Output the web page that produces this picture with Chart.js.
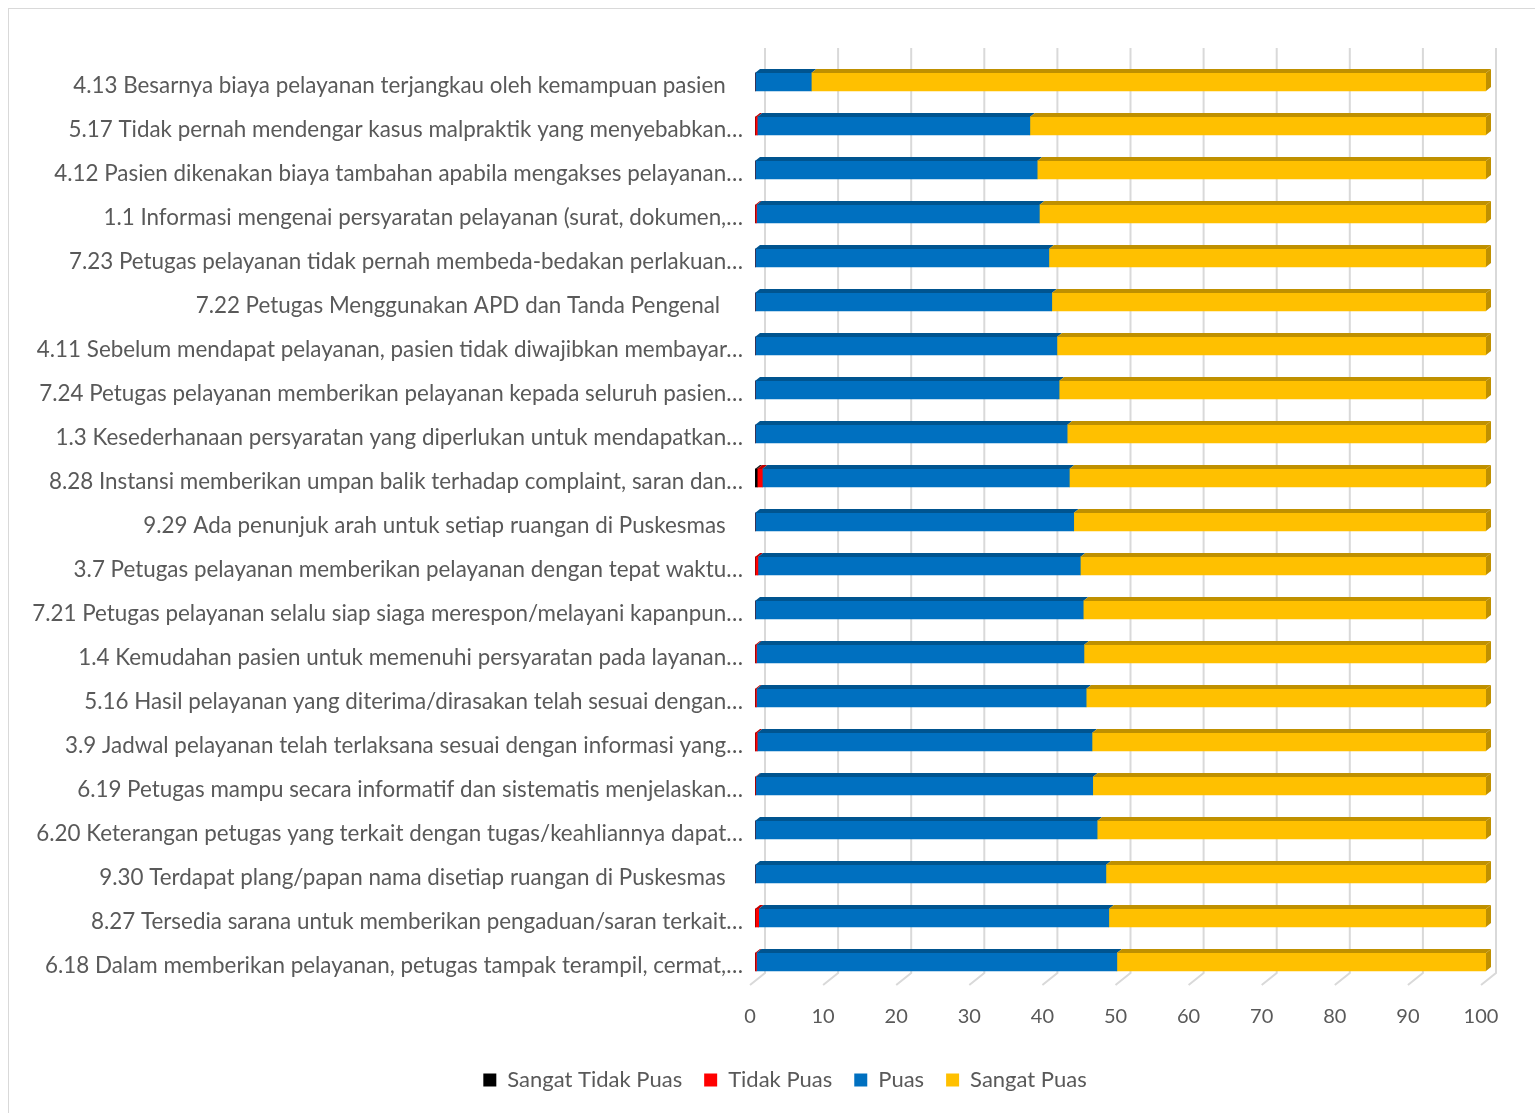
<!DOCTYPE html>
<html>
<head>
<meta charset="utf-8">
<title>Tingkat Kepuasan Pasien per Unsur</title>
<script src="https://cdn.jsdelivr.net/npm/chart.js@4.4.1/dist/chart.umd.min.js"></script>
<style>
    html, body { margin: 0; padding: 0; background: #ffffff; overflow: hidden; }
    #frame { position: absolute; left: 8px; top: 8px; width: 1600px; height: 1200px; border: 1px solid #d9d9d9; }
    #wrap { position: absolute; left: 0; top: 0; width: 1535px; height: 1113px; }
</style>
</head>
<body>
<div id="frame"></div>
<div id="wrap"><canvas id="surveyChart"></canvas></div>
<script>
// Question labels (top to bottom, as in the survey report)
const questions = [
    '4.13 Besarnya biaya pelayanan terjangkau oleh kemampuan pasien   ',
    '5.17 Tidak pernah mendengar kasus malpraktik yang menyebabkan…',
    '4.12 Pasien dikenakan biaya tambahan apabila mengakses pelayanan…',
    '1.1 Informasi mengenai persyaratan pelayanan (surat, dokumen,…',
    '7.23 Petugas pelayanan tidak pernah membeda-bedakan perlakuan…',
    '7.22 Petugas Menggunakan APD dan Tanda Pengenal    ',
    '4.11 Sebelum mendapat pelayanan, pasien tidak diwajibkan membayar…',
    '7.24 Petugas pelayanan memberikan pelayanan kepada seluruh pasien…',
    '1.3 Kesederhanaan persyaratan yang diperlukan untuk mendapatkan…',
    '8.28 Instansi memberikan umpan balik terhadap complaint, saran dan…',
    '9.29 Ada penunjuk arah untuk setiap ruangan di Puskesmas   ',
    '3.7 Petugas pelayanan memberikan pelayanan dengan tepat waktu…',
    '7.21 Petugas pelayanan selalu siap siaga merespon/melayani kapanpun…',
    '1.4 Kemudahan pasien untuk memenuhi persyaratan pada layanan…',
    '5.16 Hasil pelayanan yang diterima/dirasakan telah sesuai dengan…',
    '3.9 Jadwal pelayanan telah terlaksana sesuai dengan informasi yang…',
    '6.19 Petugas mampu secara informatif dan sistematis menjelaskan…',
    '6.20 Keterangan petugas yang terkait dengan tugas/keahliannya dapat…',
    '9.30 Terdapat plang/papan nama disetiap ruangan di Puskesmas   ',
    '8.27 Tersedia sarana untuk memberikan pengaduan/saran terkait…',
    '6.18 Dalam memberikan pelayanan, petugas tampak terampil, cermat,…'
];

// Percentages per answer category
const sangatTidakPuas = [0, 0, 0, 0, 0, 0, 0, 0, 0, 0.3, 0, 0, 0, 0, 0, 0, 0, 0, 0, 0, 0];
const tidakPuas       = [0, 0.3, 0, 0.2, 0, 0, 0, 0, 0, 0.7, 0, 0.4, 0, 0.2, 0.2, 0.3, 0.1, 0, 0, 0.5, 0.2];
const puas            = [7.7, 37.3, 38.6, 38.7, 40.2, 40.6, 41.3, 41.6, 42.7, 42.0, 43.6, 44.1, 44.9, 44.8, 45.1, 45.8, 46.1, 46.8, 48.0, 47.9, 49.3];
const sangatPuas      = [92.3, 62.4, 61.4, 61.1, 59.8, 59.4, 58.7, 58.4, 57.3, 57.0, 56.4, 55.5, 55.1, 55.0, 54.7, 53.9, 53.8, 53.2, 52.0, 51.6, 50.5];

const seriesNames = ['Sangat Tidak Puas', 'Tidak Puas', 'Puas', 'Sangat Puas'];
const axisTicks = [0, 10, 20, 30, 40, 50, 60, 70, 80, 90, 100];

// Front and top face colours of the 3D bars
const frontColors = ['#000000', '#ff0000', '#0070c0', '#ffc000'];
const topColors = ['#1a1a1a', '#bf0000', '#00548f', '#bf9000'];
const depthX = 5;
const depthY = 4;
const textColor = '#595959';
const fontFamily = 'Lato, "Open Sans", sans-serif';

// Back wall gridlines with a little floor foot (Excel 3D look)
const backGrid = {
    id: 'backGrid',
    beforeDatasetsDraw(chart) {
        const { ctx, chartArea, scales } = chart;
        ctx.save();
        ctx.strokeStyle = '#d9d9d9';
        ctx.lineWidth = 2;
        axisTicks.forEach(function(v) {
            const px = scales.x.getPixelForValue(v) + 10;
            ctx.beginPath();
            ctx.moveTo(px, chartArea.top - 12);
            ctx.lineTo(px, chartArea.bottom - 11);
            ctx.lineTo(px - 15, chartArea.bottom + 1);
            ctx.stroke();
        });
        ctx.restore();
    }
};

// Top faces of every segment and the right face of the last one
const bar3d = {
    id: 'bar3d',
    afterDatasetsDraw(chart) {
        const ctx = chart.ctx;
        const last = chart.data.datasets.length - 1;
        ctx.save();
        chart.data.datasets.forEach(function(ds, i) {
            const meta = chart.getDatasetMeta(i);
            meta.data.forEach(function(bar) {
                const p = bar.getProps(['x', 'y', 'base', 'height'], true);
                if (p.x - p.base < 0.5) return;
                const top = p.y - p.height / 2;
                const bottom = p.y + p.height / 2;
                ctx.fillStyle = topColors[i];
                ctx.beginPath();
                ctx.moveTo(p.base, top);
                ctx.lineTo(p.base + depthX, top - depthY);
                ctx.lineTo(p.x + depthX, top - depthY);
                ctx.lineTo(p.x, top);
                ctx.closePath();
                ctx.fill();
                if (i === last) {
                    ctx.beginPath();
                    ctx.moveTo(p.x, top);
                    ctx.lineTo(p.x + depthX, top - depthY);
                    ctx.lineTo(p.x + depthX, bottom - depthY);
                    ctx.lineTo(p.x, bottom);
                    ctx.closePath();
                    ctx.fill();
                }
            });
        });
        ctx.restore();
    }
};

// Legend sits centred under the plot area, not the whole canvas
const legendShift = {
    id: 'legendShift',
    afterLayout(chart) {
        chart.legend.left += 32;
        chart.legend.right += 32;
    }
};

function buildDatasets() {
    const values = [sangatTidakPuas, tidakPuas, puas, sangatPuas];
    return seriesNames.map(function(name, i) {
        return {
            label: name,
            data: values[i],
            backgroundColor: frontColors[i],
            borderWidth: 0,
            barThickness: 18
        };
    });
}

const ctx = document.getElementById('surveyChart').getContext('2d');
const chart = new Chart(ctx, {
    type: 'bar',
    data: {
        labels: questions,
        datasets: buildDatasets()
    },
    options: {
        indexAxis: 'y',
        responsive: true,
        maintainAspectRatio: false,
        animation: false,
        layout: {
            padding: { left: 20, right: 49, top: 60, bottom: 12 }
        },
        scales: {
            x: {
                stacked: true,
                min: 0,
                max: 100,
                grid: { display: false, drawTicks: false },
                border: { display: false },
                afterBuildTicks: function(scale) {
                    scale.ticks = axisTicks.map(function(v) { return { value: v }; });
                },
                afterFit: function(scale) { scale.height = 63; },
                ticks: {
                    color: textColor,
                    font: { family: fontFamily, size: 20 },
                    padding: 21,
                    labelOffset: -5,
                    maxRotation: 0
                }
            },
            y: {
                stacked: true,
                grid: { display: false, drawTicks: false },
                border: { display: false },
                afterFit: function(scale) { scale.width = 735; },
                ticks: {
                    color: textColor,
                    font: { family: fontFamily, size: 22.4 },
                    padding: 12,
                    labelOffset: 4,
                    autoSkip: false
                }
            }
        },
        plugins: {
            legend: {
                position: 'bottom',
                labels: {
                    color: textColor,
                    font: { family: fontFamily, size: 22 },
                    boxWidth: 13,
                    boxHeight: 13,
                    padding: 22
                }
            },
            tooltip: { enabled: false }
        }
    },
    plugins: [backGrid, bar3d, legendShift]
});
</script>
</body>
</html>
